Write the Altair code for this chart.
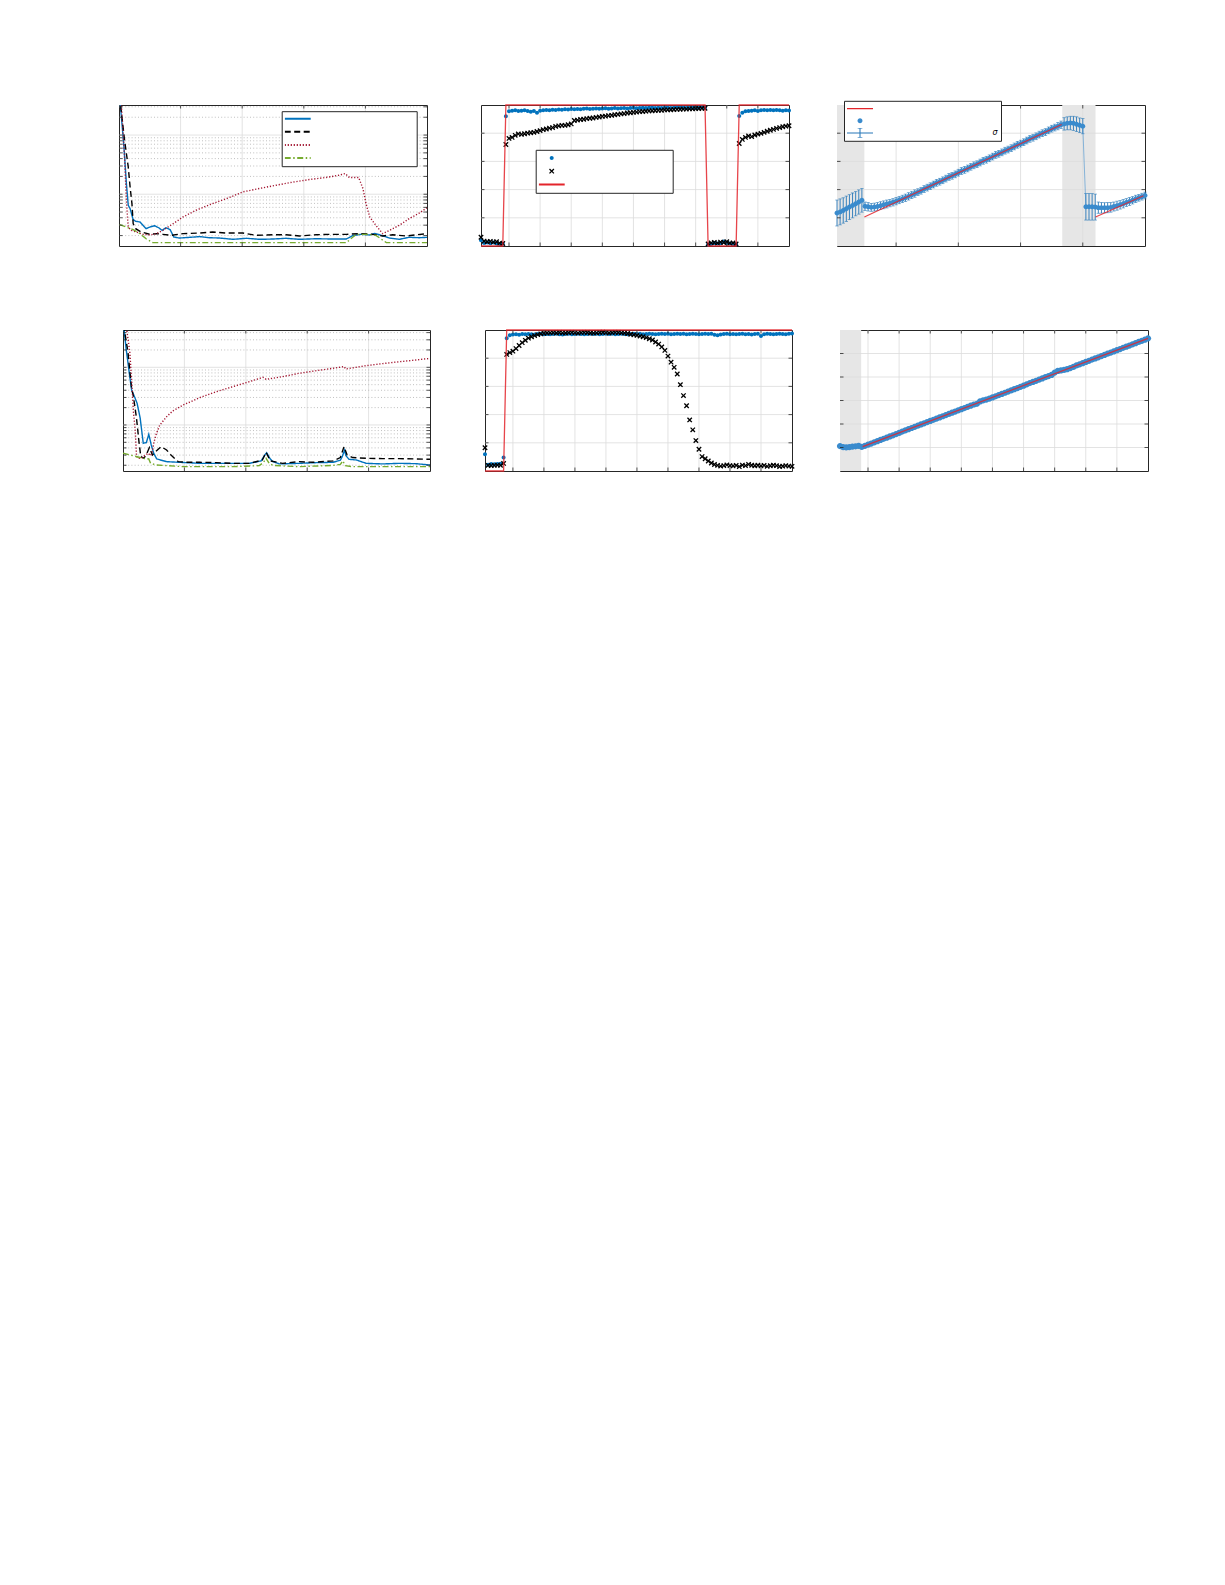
import altair as alt
import pandas as pd

# ============================ data ============================
METHODS = ["method 1", "method 2", "method 3", "method 4"]
METHOD_COLORS = ["#0072BD", "#000000", "#A2142F", "#77AC30"]
METHOD_DASHES = [[1, 0], [6, 3.5], [1.2, 1.8], [6, 2.5, 1.5, 2.5]]

# (a) top-left: error vs iteration (log scale)
a1_x = [2, 8, 12, 15, 18, 23, 27, 34, 39, 44, 50, 58, 65, 70, 76, 83, 89, 98, 115, 131,
        147, 163, 185, 207, 228, 250, 271, 293, 320, 347, 369, 379, 393, 407, 415, 424,
        439, 455, 471, 488, 500]
a1_y = [34.4, 6.34, 1.52, 0.651, 0.572, 0.372, 0.349, 0.340, 0.298, 0.262, 0.279, 0.294,
        0.269, 0.245, 0.272, 0.252, 0.189, 0.182, 0.187, 0.192, 0.184, 0.182, 0.173, 0.180,
        0.173, 0.175, 0.180, 0.173, 0.177, 0.175, 0.175, 0.199, 0.210, 0.205, 0.218, 0.205,
        0.182, 0.173, 0.187, 0.184, 0.187]
a2_x = [1, 9, 15, 18, 21, 23, 27, 36, 50, 61, 71, 85, 104, 131, 152, 174, 201, 223, 250, 271,
        293, 320, 347, 369, 390, 412, 428, 444, 466, 500]
a2_y = [44.6, 8.23, 2.90, 1.33, 0.695, 0.318, 0.262, 0.230, 0.210, 0.216, 0.210, 0.202, 0.216,
        0.221, 0.230, 0.221, 0.221, 0.202, 0.207, 0.207, 0.197, 0.207, 0.210, 0.210, 0.216,
        0.210, 0.197, 0.207, 0.197, 0.216]
a3_x = [3, 9, 12, 15, 20, 28, 39, 50, 61, 71, 88, 104, 125, 152, 179, 201, 228, 255, 282, 309,
        336, 358, 367, 374, 389, 396, 401, 407, 417, 428, 439, 455, 471, 488, 500]
a3_y = [44.6, 4.29, 0.791, 0.279, 0.245, 0.230, 0.210, 0.205, 0.216, 0.245, 0.318, 0.413,
        0.536, 0.695, 0.878, 1.095, 1.25, 1.42, 1.60, 1.77, 1.92, 2.10, 2.24, 1.92, 1.92, 1.25,
        0.695, 0.413, 0.298, 0.216, 0.245, 0.298, 0.387, 0.483, 0.594]
a4_x = [1, 12, 23, 34, 44, 55, 77, 131, 185, 239, 293, 347, 369, 385, 401, 417, 425, 434, 500]
a4_y = [0.306, 0.279, 0.252, 0.216, 0.177, 0.152, 0.152, 0.152, 0.152, 0.152, 0.152, 0.152,
        0.152, 0.210, 0.210, 0.202, 0.177, 0.152, 0.152]

# (d) bottom-left: error vs iteration (log scale)
d1_x = [1, 5, 10, 14, 18, 23, 28, 33, 38, 42, 46, 50, 55, 71, 92, 125, 152, 179, 206, 225,
        231, 234, 239, 244, 255, 287, 315, 342, 354, 357, 361, 363, 368, 380, 396, 423, 450,
        477, 500]
d1_y = [54.2, 21.4, 8.41, 4.05, 3.22, 2.37, 1.31, 0.481, 0.494, 0.689, 0.450, 0.323, 0.257,
        0.231, 0.225, 0.216, 0.216, 0.216, 0.216, 0.238, 0.302, 0.331, 0.264, 0.231, 0.211,
        0.216, 0.222, 0.225, 0.244, 0.282, 0.368, 0.294, 0.254, 0.247, 0.216, 0.211, 0.216,
        0.213, 0.202]
d2_x = [1, 8, 14, 17, 22, 26, 29, 34, 39, 43, 48, 53, 62, 71, 79, 90, 103, 125, 152, 179, 206,
        227, 233, 240, 260, 287, 309, 342, 354, 360, 365, 374, 396, 423, 450, 477, 500]
d2_y = [54.2, 18.7, 4.32, 3.10, 1.31, 0.514, 0.282, 0.264, 0.323, 0.405, 0.302, 0.345, 0.421,
        0.368, 0.294, 0.231, 0.225, 0.225, 0.222, 0.216, 0.216, 0.247, 0.336, 0.238, 0.216,
        0.231, 0.225, 0.238, 0.272, 0.421, 0.302, 0.272, 0.264, 0.261, 0.261, 0.257, 0.254]
d3_x = [5, 11, 15, 17, 20, 22, 24, 30, 35, 41, 45, 48, 50, 54, 60, 71, 81, 98, 125, 152, 179,
        206, 228, 233, 260, 287, 315, 342, 360, 363, 396, 423, 450, 477, 500]
d3_y = [54.2, 18.7, 4.32, 1.70, 0.766, 0.294, 0.264, 0.264, 0.294, 0.323, 0.294, 0.345, 0.481,
        0.689, 1.0, 1.39, 1.75, 2.22, 2.98, 3.78, 4.62, 5.64, 6.71, 6.19, 6.89, 7.87, 8.75,
        9.61, 10.3, 9.35, 10.7, 11.6, 12.5, 13.4, 14.3]
d4_x = [0, 16, 33, 42, 45, 54, 71, 98, 125, 179, 222, 229, 233, 238, 244, 287, 342, 354, 358,
        362, 374, 423, 500]
d4_y = [0.323, 0.294, 0.264, 0.257, 0.216, 0.202, 0.197, 0.189, 0.189, 0.189, 0.197, 0.225,
        0.264, 0.216, 0.199, 0.189, 0.199, 0.207, 0.238, 0.197, 0.189, 0.189, 0.189]

# time steps for the middle / right panels
STEPS = list(range(1, 101))

# (b) top-middle
B_SERIES = ["series 1", "series 2", "ground truth"]
b_dots = [0.040, 0.022, 0.025, 0.020, 0.024, 0.018, 0.015, 0.016,
          0.920, 0.955, 0.960, 0.962, 0.958, 0.960, 0.963, 0.957, 0.953, 0.958,
          0.945, 0.960, 0.963, 0.965, 0.962, 0.967, 0.965, 0.968, 0.966, 0.970,
          0.968, 0.971, 0.969, 0.972, 0.970, 0.973, 0.975, 0.972, 0.974, 0.976,
          0.973, 0.975, 0.977, 0.974, 0.976, 0.978, 0.975, 0.977, 0.979, 0.976,
          0.978, 0.980, 0.977, 0.979, 0.981, 0.978, 0.980, 0.982, 0.979, 0.981,
          0.978, 0.980, 0.982, 0.979, 0.981, 0.983, 0.980, 0.982, 0.979, 0.981,
          0.983, 0.980, 0.982, 0.984, 0.981,
          0.010, 0.015, 0.022, 0.018, 0.020, 0.032, 0.022, 0.018, 0.015, 0.012,
          0.922, 0.945, 0.955, 0.957, 0.960, 0.962, 0.957, 0.962, 0.965, 0.962,
          0.965, 0.963, 0.965, 0.962, 0.960, 0.962, 0.961]
b_cross = [0.062, 0.035, 0.030, 0.033, 0.028, 0.030, 0.020, 0.018,
           0.720, 0.763, 0.770, 0.785, 0.795, 0.792, 0.796, 0.800, 0.803, 0.806,
           0.812, 0.818, 0.825, 0.830, 0.836, 0.840, 0.848, 0.852, 0.855, 0.856,
           0.860, 0.866, 0.890, 0.893, 0.897, 0.899, 0.903, 0.906, 0.908, 0.912,
           0.915, 0.919, 0.921, 0.925, 0.927, 0.931, 0.933, 0.937, 0.939, 0.943,
           0.945, 0.948, 0.950, 0.953, 0.954, 0.956, 0.958, 0.959, 0.961, 0.962,
           0.963, 0.965, 0.966, 0.966, 0.968, 0.969, 0.970, 0.971, 0.971, 0.973,
           0.973, 0.974, 0.975, 0.976, 0.977,
           0.015, 0.022, 0.025, 0.020, 0.028, 0.025, 0.030, 0.020, 0.022, 0.015,
           0.727, 0.756, 0.770, 0.780, 0.776, 0.787, 0.794, 0.799, 0.806, 0.814,
           0.821, 0.827, 0.834, 0.840, 0.846, 0.850, 0.853]
b_truth_t = [1, 8, 9, 73, 74, 83, 84, 100]
b_truth_v = [0, 0, 1, 1, 0, 0, 1, 1]

# (e) bottom-middle
e_dots = [0.118, 0.045, 0.050, 0.048, 0.050, 0.052, 0.095,
          0.941, 0.962, 0.968, 0.970, 0.967, 0.971, 0.969, 0.972, 0.970, 0.968,
          0.971, 0.973, 0.970, 0.972, 0.969, 0.971, 0.973, 0.970, 0.968, 0.971,
          0.973, 0.970, 0.972, 0.974, 0.971, 0.969, 0.972, 0.974, 0.971, 0.973,
          0.970, 0.972, 0.974, 0.971, 0.973, 0.970, 0.972, 0.974, 0.971, 0.969,
          0.972, 0.974, 0.971, 0.973, 0.970, 0.972, 0.974, 0.971, 0.969, 0.972,
          0.974, 0.971, 0.973, 0.970, 0.972, 0.974, 0.971, 0.973, 0.970, 0.972,
          0.974, 0.971, 0.969, 0.972, 0.974, 0.971, 0.973, 0.966, 0.963, 0.968,
          0.971, 0.973, 0.970, 0.972, 0.969, 0.971, 0.973, 0.970, 0.972, 0.968,
          0.971, 0.973, 0.958, 0.970, 0.973, 0.971, 0.969, 0.972, 0.974, 0.971,
          0.969, 0.973, 0.976]
e_cross = [0.165, 0.040, 0.038, 0.040, 0.042, 0.040, 0.054,
           0.827, 0.840, 0.850, 0.868, 0.890, 0.910, 0.927, 0.942, 0.952, 0.960,
           0.967, 0.973, 0.977, 0.979, 0.980, 0.981, 0.979, 0.982, 0.980, 0.979,
           0.981, 0.983, 0.980, 0.978, 0.981, 0.983, 0.982, 0.979, 0.978, 0.980,
           0.982, 0.984, 0.981, 0.979, 0.981, 0.983, 0.982, 0.980, 0.978, 0.975,
           0.970, 0.966, 0.962, 0.957, 0.952, 0.946, 0.938, 0.929, 0.915, 0.900,
           0.880, 0.855, 0.815, 0.772, 0.735, 0.688, 0.612, 0.535, 0.463, 0.362,
           0.292, 0.216, 0.154, 0.102, 0.087, 0.071, 0.057, 0.046, 0.040, 0.035,
           0.038, 0.043, 0.038, 0.036, 0.040, 0.031, 0.042, 0.038, 0.047, 0.041,
           0.037, 0.041, 0.036, 0.040, 0.033, 0.037, 0.041, 0.038, 0.032, 0.034,
           0.038, 0.035, 0.033]
e_truth_t = [1, 7, 8, 100]
e_truth_v = [0, 0, 1, 1]

# (c) top-right: estimate with +-sigma error bars
C_SERIES = ["ground truth", "estimate", "estimate ± σ"]
c_est = [1.17, 1.21, 1.26, 1.32, 1.38, 1.44, 1.50, 1.56, 1.62,
         1.41, 1.39, 1.37, 1.38, 1.40, 1.43, 1.46, 1.49, 1.52, 1.55,
         1.59, 1.63, 1.67, 1.71, 1.76, 1.81, 1.86, 1.91, 1.96, 2.02,
         2.07, 2.12, 2.18, 2.24, 2.28, 2.33, 2.39, 2.45, 2.49, 2.54,
         2.60, 2.66, 2.70, 2.75, 2.81, 2.86, 2.90, 2.96, 3.02, 3.06,
         3.11, 3.17, 3.23, 3.27, 3.32, 3.38, 3.42, 3.47, 3.53, 3.59,
         3.63, 3.68, 3.74, 3.80, 3.84, 3.89, 3.95, 4.00, 4.04, 4.10,
         4.16, 4.20, 4.25, 4.30,
         4.33, 4.35, 4.36, 4.35, 4.32, 4.28, 4.25,
         1.39, 1.39, 1.39, 1.38,
         1.36, 1.355, 1.355, 1.36, 1.37, 1.40, 1.43, 1.46, 1.50, 1.54,
         1.58, 1.62, 1.67, 1.71, 1.75, 1.79]
c_sigma = [0.46, 0.46, 0.45, 0.45, 0.44, 0.44, 0.43, 0.43, 0.42,
           0.15, 0.15, 0.14, 0.14, 0.14, 0.14, 0.14, 0.14, 0.13, 0.13,
           0.13, 0.13, 0.13, 0.13, 0.13, 0.13, 0.13, 0.12, 0.12, 0.12,
           0.12, 0.12, 0.12, 0.12, 0.12, 0.12, 0.12, 0.12, 0.12, 0.12,
           0.12, 0.12, 0.12, 0.12, 0.12, 0.12, 0.12, 0.12, 0.12, 0.12,
           0.12, 0.12, 0.12, 0.12, 0.12, 0.12, 0.12, 0.12, 0.12, 0.12,
           0.12, 0.12, 0.12, 0.12, 0.12, 0.12, 0.12, 0.12, 0.12, 0.12,
           0.12, 0.12, 0.13, 0.13,
           0.22, 0.23, 0.24, 0.25, 0.26, 0.26, 0.27,
           0.47, 0.47, 0.47, 0.46,
           0.20, 0.19, 0.18, 0.18, 0.17, 0.16, 0.16, 0.15, 0.15, 0.14,
           0.14, 0.13, 0.13, 0.12, 0.12, 0.12]
c_truth_t = [9.8, 73.2, 84.1, 99.5]
c_truth_v = [1.03, 4.31, 1.03, 1.78]
c_truth_seg = [1, 1, 2, 2]
c_shade_start = [1, 73.4]
c_shade_end = [9.8, 84.1]

# (f) bottom-right
f_est = [1.06, 1.02, 1.01, 1.02, 1.04, 1.05, 1.07,
         1.03, 1.07, 1.12, 1.17, 1.22, 1.27, 1.32, 1.37, 1.42, 1.47,
         1.52, 1.57, 1.62, 1.68, 1.73, 1.78, 1.83, 1.88, 1.93, 1.98,
         2.03, 2.08, 2.13, 2.18, 2.23, 2.28, 2.33, 2.38, 2.43, 2.48,
         2.53, 2.58, 2.63, 2.68, 2.73, 2.78, 2.83, 2.86, 2.96, 3.01,
         3.04, 3.08, 3.13, 3.18, 3.23, 3.28, 3.33, 3.38, 3.43, 3.48,
         3.53, 3.58, 3.63, 3.69, 3.74, 3.79, 3.84, 3.89, 3.94, 3.99,
         4.04, 4.09, 4.19, 4.26, 4.28, 4.30, 4.33, 4.38, 4.43, 4.49,
         4.54, 4.59, 4.64, 4.69, 4.74, 4.79, 4.84, 4.89, 4.94, 4.99,
         5.04, 5.09, 5.14, 5.19, 5.24, 5.29, 5.34, 5.39, 5.44, 5.49,
         5.54, 5.59, 5.645]
f_sigma = [0.07] * 7 + [0.06] * 93
f_truth_t = [8.3, 100]
f_truth_v = [1.035, 5.645]
f_shade_start = [1]
f_shade_end = [7.8]

# tick / grid positions
LOG_TICKS_A = [0.2, 0.3, 0.4, 0.5, 0.6, 0.7, 0.8, 0.9, 2, 3, 4, 5, 6, 7, 8, 9, 20, 30]
LOG_TICKS_D = LOG_TICKS_A + [40]
LOG_MAJOR = [1, 10]
ITER_TICKS = [100, 200, 300, 400]
STEP_TICKS_10 = [10, 20, 30, 40, 50, 60, 70, 80, 90]
STEP_TICKS_20 = [20, 40, 60, 80]
PROB_TICKS = [0.2, 0.4, 0.6, 0.8]

# ============================ style ============================
FRAME = "#262626"
GRID = "#dcdcdc"
MINOR = "#b0b0b0"
RED = "#E3242B"
BLUE = "#0072BD"
EBLUE = "#2677b8"
PBLUE = "#3a8bcd"
SHADE = "#e6e6e6"
TL = 3.5
H = 141

HLINE2 = "M-1,-0.077H1V0.077H-1Z"
HLINE3 = "M-1,-0.05H1V0.05H-1Z"
CIRC2 = "M0.154,0A0.154,0.154,0,1,1,-0.154,0A0.154,0.154,0,1,1,0.154,0Z"
CIRC3 = "M0.19,0A0.19,0.19,0,1,1,-0.19,0A0.19,0.19,0,1,1,0.19,0Z"
CIRC6 = "M0.24,0A0.24,0.24,0,1,1,-0.24,0A0.24,0.24,0,1,1,0.24,0Z"
XMARK = ("M0.071,0L0.205,0.135L0.135,0.205L0,0.071L-0.135,0.205L-0.205,0.135L-0.071,0"
         "L-0.205,-0.135L-0.135,-0.205L0,-0.071L0.135,-0.205L0.205,-0.135Z")
EBAR = ("M-1,-0.04H1V0.04H-1Z M-0.04,-0.36H0.04V0.36H-0.04Z "
        "M-0.18,-0.39H0.18V-0.33H-0.18Z M-0.18,0.33H0.18V0.39H-0.18Z")


def lin(dom):
    return alt.Scale(domain=dom, nice=False, zero=False)


def logs(dom):
    return alt.Scale(type="log", domain=dom, nice=False)


def grid_layers(xs, ys, xt, yt, yminor=None):
    out = [
        alt.Chart(pd.DataFrame({"gx": xt})).mark_rule(color=GRID, strokeWidth=0.8)
        .encode(x=alt.X("gx:Q", scale=xs, axis=None)),
        alt.Chart(pd.DataFrame({"gy": yt})).mark_rule(color=GRID, strokeWidth=0.8)
        .encode(y=alt.Y("gy:Q", scale=ys, axis=None)),
    ]
    if yminor:
        out.append(alt.Chart(pd.DataFrame({"gy": yminor}))
                   .mark_rule(color=MINOR, strokeWidth=0.8, strokeDash=[1, 2.2])
                   .encode(y=alt.Y("gy:Q", scale=ys, axis=None)))
    return out


def tick_layers(xs, ys, xt, yt, W):
    bx = alt.Chart(pd.DataFrame({"tx": xt})).mark_rule(color=FRAME, strokeWidth=0.8)
    by = alt.Chart(pd.DataFrame({"ty": yt})).mark_rule(color=FRAME, strokeWidth=0.8)
    X = alt.X("tx:Q", scale=xs, axis=None)
    Y = alt.Y("ty:Q", scale=ys, axis=None)
    return [
        bx.encode(x=X, y=alt.value(H), y2=alt.value(H - TL)),
        bx.encode(x=X, y=alt.value(0), y2=alt.value(TL)),
        by.encode(y=Y, x=alt.value(0), x2=alt.value(TL)),
        by.encode(y=Y, x=alt.value(W), x2=alt.value(W - TL)),
    ]


def box_legend(lx, ly, label_offset, clip_h, row_pad, stroke_w=0, sym_off=0,
               label_expr="' '", sym_type=None, italic=False):
    kw = dict(orient="none", legendX=lx, legendY=ly, direction="vertical", title=None,
              fillColor="white", strokeColor=FRAME, padding=3, symbolSize=676,
              symbolStrokeWidth=stroke_w, symbolOffset=sym_off, labelOffset=label_offset,
              clipHeight=clip_h, rowPadding=row_pad, labelExpr=label_expr,
              labelFontSize=8, labelColor="black", labelFont="DejaVu Sans")
    if sym_type:
        kw["symbolType"] = sym_type
    if italic:
        kw["labelFontStyle"] = "italic"
    return alt.Legend(**kw)


def log_panel(series, W, ydom, yminor, legend):
    xs = lin([0, 500])
    ys = logs(ydom)
    rows = []
    for name, xv, yv in series:
        for i, (a, b) in enumerate(zip(xv, yv)):
            rows.append({"method": name, "x": a, "y": b, "i": i})
    df = pd.DataFrame(rows)
    layers = grid_layers(xs, ys, ITER_TICKS, LOG_MAJOR, yminor)
    layers.append(
        alt.Chart(df).mark_line(strokeWidth=1.4, clip=True).encode(
            x=alt.X("x:Q", scale=xs, axis=None),
            y=alt.Y("y:Q", scale=ys, axis=None),
            color=alt.Color("method:N", scale=alt.Scale(domain=METHODS, range=METHOD_COLORS),
                            legend=legend),
            strokeDash=alt.StrokeDash("method:N",
                                      scale=alt.Scale(domain=METHODS, range=METHOD_DASHES),
                                      legend=legend),
            order="i:Q",
        )
    )
    layers += tick_layers(xs, ys, ITER_TICKS, LOG_MAJOR + yminor, W)
    return alt.layer(*layers).properties(width=W, height=H)


def prob_panel(dots, cross, truth_t, truth_v, W, legend):
    xs = lin([1, 100])
    ys = lin([0, 1])
    df = pd.DataFrame({
        "t": STEPS + STEPS,
        "v": dots + cross,
        "series": [B_SERIES[0]] * len(dots) + [B_SERIES[1]] * len(cross),
    })
    tr = pd.DataFrame({"t": truth_t, "v": truth_v})
    layers = grid_layers(xs, ys, STEP_TICKS_10, PROB_TICKS)
    layers.append(
        alt.Chart(df).mark_point(filled=True, size=676, opacity=1).encode(
            x=alt.X("t:Q", scale=xs, axis=None),
            y=alt.Y("v:Q", scale=ys, axis=None),
            color=alt.Color("series:N", scale=alt.Scale(domain=B_SERIES,
                                                        range=[BLUE, "#000000", RED]),
                            legend=legend),
            shape=alt.Shape("series:N", scale=alt.Scale(domain=B_SERIES,
                                                        range=[CIRC2, XMARK, HLINE2]),
                            legend=legend),
        )
    )
    layers.append(
        alt.Chart(tr).mark_line(color=RED, strokeWidth=1.3, opacity=0.85).encode(
            x=alt.X("t:Q", scale=xs, axis=None),
            y=alt.Y("v:Q", scale=ys, axis=None),
        )
    )
    layers += tick_layers(xs, ys, STEP_TICKS_10, PROB_TICKS, W)
    return alt.layer(*layers).properties(width=W, height=H)


def est_panel(est, sigma, truth_t, truth_v, truth_seg, sh_s, sh_e, W, ydom, yt, xt,
              legend, cap, pt_path):
    xs = lin([1, 100])
    ys = lin(ydom)
    df = pd.DataFrame({"t": STEPS, "v": est, "e": sigma,
                       "series": [C_SERIES[1]] * len(est)})
    tr = pd.DataFrame({"t": truth_t, "v": truth_v, "seg": truth_seg})
    sh = pd.DataFrame({"s": sh_s, "e": sh_e})
    X = alt.X("t:Q", scale=xs, axis=None)
    base = alt.Chart(df).transform_calculate(lo="datum.v - datum.e", hi="datum.v + datum.e")
    layers = [alt.Chart(sh).mark_rect(color=SHADE).encode(
        x=alt.X("s:Q", scale=xs, axis=None), x2="e:Q")]
    layers += grid_layers(xs, ys, xt, yt)
    layers.append(base.mark_rule(color=EBLUE, strokeWidth=0.9).encode(
        x=X, y=alt.Y("lo:Q", scale=ys, axis=None), y2="hi:Q"))
    layers.append(base.mark_tick(orient="horizontal", size=cap, thickness=0.8,
                                 color=EBLUE).encode(
        x=X, y=alt.Y("lo:Q", scale=ys, axis=None)))
    layers.append(base.mark_tick(orient="horizontal", size=cap, thickness=0.8,
                                 color=EBLUE).encode(
        x=X, y=alt.Y("hi:Q", scale=ys, axis=None)))
    layers.append(alt.Chart(df).mark_line(color=PBLUE, strokeWidth=0.8, opacity=0.7).encode(
        x=X, y=alt.Y("v:Q", scale=ys, axis=None)))
    if legend is not None:
        layers.append(alt.Chart(df).mark_point(filled=True, size=676, opacity=1).encode(
            x=X, y=alt.Y("v:Q", scale=ys, axis=None),
            color=alt.Color("series:N", scale=alt.Scale(domain=C_SERIES,
                                                        range=[RED, PBLUE, EBLUE]),
                            legend=legend),
            shape=alt.Shape("series:N", scale=alt.Scale(domain=C_SERIES,
                                                        range=[HLINE3, pt_path, EBAR]),
                            legend=legend),
        ))
    else:
        layers.append(alt.Chart(df).mark_point(filled=True, size=676, opacity=1,
                                               shape=pt_path, color=PBLUE).encode(
            x=X, y=alt.Y("v:Q", scale=ys, axis=None)))
    layers.append(alt.Chart(tr).mark_line(color=RED, strokeWidth=1.2, opacity=0.85).encode(
        x=X, y=alt.Y("v:Q", scale=ys, axis=None), detail="seg:N"))
    layers += tick_layers(xs, ys, xt, yt, W)
    return alt.layer(*layers).properties(width=W, height=H)


# ============================ panels ============================
leg_a = box_legend(162.7, 6.2, 102, 9, 4.1, stroke_w=2, sym_off=-1, sym_type="stroke")
p1 = log_panel([(METHODS[0], a1_x, a1_y), (METHODS[1], a2_x, a2_y),
                (METHODS[2], a3_x, a3_y), (METHODS[3], a4_x, a4_y)],
               308, [0.1334, 32.2], LOG_TICKS_A, leg_a)
p4 = log_panel([(METHODS[0], d1_x, d1_y), (METHODS[1], d2_x, d2_y),
                (METHODS[2], d3_x, d3_y), (METHODS[3], d4_x, d4_y)],
               307, [0.159, 44.4], LOG_TICKS_D, None)

leg_b = box_legend(54.7, 44.8, 104.4, 10.2, 2.3)
p2 = prob_panel(b_dots, b_cross, b_truth_t, b_truth_v, 308, leg_b)
p5 = prob_panel(e_dots, e_cross, e_truth_t, e_truth_v, 307, None)

leg_c = box_legend(7, -4.2, 119.5, 9.8, 2.1,
                   label_expr="datum.value == 'estimate ± σ' ? 'σ' : '    '", italic=True)
p3 = est_panel(c_est, c_sigma, c_truth_t, c_truth_v, c_truth_seg, c_shade_start, c_shade_end,
               308, [0, 5], [1, 2, 3, 4], STEP_TICKS_20, leg_c, 3.4, CIRC3)
p6 = est_panel(f_est, f_sigma, f_truth_t, f_truth_v, [1, 1], f_shade_start, f_shade_end,
               308, [0, 6], [1, 2, 3, 4, 5], STEP_TICKS_10, None, 3.4, CIRC6)


def spacer(w):
    return alt.Chart(pd.DataFrame({"s": [0]})).mark_rule(opacity=0, strokeWidth=0).encode(
        x=alt.value(0)).properties(width=w, height=1,
                                   view=alt.ViewBackground(strokeOpacity=0, fillOpacity=0))


SP = 20


def row(items):
    return alt.hconcat(*items, spacing=SP, bounds="flush").resolve_scale(
        color="independent", shape="independent", strokeDash="independent")


row1 = row([spacer(1), p1, spacer(54 - 2 * SP), p2, spacer(48 - 2 * SP), p3])
row2 = row([spacer(5), p4, spacer(55 - 2 * SP), p5, spacer(48 - 2 * SP), p6])

chart = alt.vconcat(row1, row2, spacing=76).resolve_scale(
    color="independent", shape="independent", strokeDash="independent"
).properties(
    padding={"left": 90, "top": 91, "right": 8, "bottom": 8},
    background="white",
).configure_view(stroke=FRAME, strokeWidth=1)

chart.save("out.html", embed_options={"renderer": "svg", "actions": False})
